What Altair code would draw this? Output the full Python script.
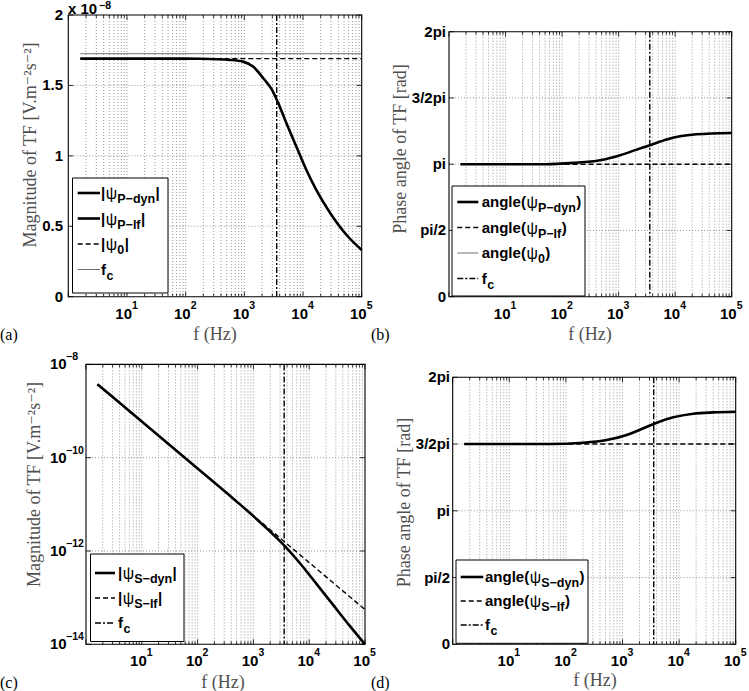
import altair as alt
import numpy as np
import pandas as pd

# ---------------------------------------------------------------- fonts / colours
SANS = "Liberation Sans, Arial, Helvetica, sans-serif"
SERIF = "Liberation Serif, 'Times New Roman', 'DejaVu Serif', serif"
TITLE_GRAY = "#505050"
GRID_GRAY = "#9a9a9a"

# ---------------------------------------------------------------- data
F_LO, F_HI = 1.0, 1.0e5      # frequency axis limits (Hz)
F_START = 1.6                # first computed frequency (Hz)
F_C = 3560.0                 # cut-off frequency f_c (Hz)

# (a) |psi_P|, in units of 1e-8 V.m^-2.s^-2
freq_p_mag = [1.6, 10, 100, 176, 570, 952, 1410, 2085, 2897, 3752, 5215,
              7720, 11420, 16900, 28450, 54800, 100000]
mag_p_dyn = [1.69, 1.69, 1.69, 1.689, 1.681, 1.669, 1.634, 1.553, 1.475,
             1.378, 1.232, 1.065, 0.900, 0.757, 0.600, 0.440, 0.332]
mag_p_lf = 1.69
mag_p_0 = 1.725

# (b) angle(psi_P), in multiples of pi
freq_p_ph = [1.6, 10, 50, 158, 469, 1058, 2090, 3590, 7080, 12170, 24000, 100000]
phase_p_dyn = [1.0, 1.0, 1.0, 1.010, 1.030, 1.068, 1.110, 1.143, 1.186,
               1.211, 1.226, 1.236]
phase_p_lf = 1.0

# (c) |psi_S|, V.m^-2.s^-2
freq_s_mag = [1.6, 10, 100, 437, 1000, 1730, 3660, 6840, 13610, 27040,
              53830, 100000]
mag_s_dyn = [3.76e-9, 5.94e-10, 5.85e-11, 1.32e-11, 5.6e-12, 3.05e-12,
             1.27e-12, 5.47e-13, 1.95e-13, 6.9e-14, 2.45e-14, 1.0e-14]
freq_s_lf = [1.6, 100000]
mag_s_lf = [3.76e-9, 5.55e-14]

# (d) angle(psi_S), in multiples of pi
freq_s_ph = [1.6, 10, 50, 203, 526, 1186, 2330, 4020, 7900, 17800, 40200, 100000]
phase_s_dyn = [1.5, 1.5, 1.5, 1.510, 1.530, 1.567, 1.618, 1.660, 1.700,
               1.727, 1.737, 1.742]
phase_s_lf = 1.5

# axis ticks
DECADES = [1, 10, 100, 1000, 10000, 100000]
MINOR = [m * 10 ** k for k in range(5) for m in range(2, 10)]
X_LABEL_FREQ = [10, 100, 1000, 10000, 100000]
X_LABEL_EXP = ["1", "2", "3", "4", "5"]
MAG_TICKS = [0, 0.5, 1, 1.5, 2]
MAG_TICK_TEXT = ["0", "0.5", "1", "1.5", "2"]
PHASE_TICKS = [0, np.pi / 2, np.pi, 1.5 * np.pi, 2 * np.pi]
PHASE_TICK_TEXT = ["0", "pi/2", "pi", "3/2pi", "2pi"]
LOGMAG_TICKS = [1e-8, 1e-10, 1e-12, 1e-14]
LOGMAG_EXP = ["\u22128", "\u221210", "\u221212", "\u221214"]
GRID_X = MINOR + DECADES[1:-1]

# ---------------------------------------------------------------- styles
STYLE = {
    "dyn": dict(color="black", strokeWidth=2.6),
    "lf": dict(color="black", strokeWidth=1.4, strokeDash=[5, 3]),
    "thin": dict(color="#606060", strokeWidth=0.9),
    "fc": dict(color="black", strokeWidth=1.4, strokeDash=[6, 2, 2, 2]),
}

ONE = pd.DataFrame({"k": [0]})
FS = 15        # bold label size
FS_SUB = 12.5  # subscript size
FS_SUP = 10.5  # superscript size

BOLD_W = {"a": .556, "n": .611, "g": .611, "l": .278, "e": .556, "(": .333,
          ")": .333, "|": .280, "P": .667, "S": .667, "\u2212": .584,
          "d": .611, "y": .556, "f": .333, "0": .556, "c": .556}


def text_width(s, size):
    return sum(BOLD_W.get(ch, 0.6) for ch in s) * size


def text(x, y, s, size=FS, weight="bold", font=SANS, align="left",
         color="black", angle=None, baseline="middle"):
    props = dict(text=s, fontSize=size, fontWeight=weight, font=font,
                 align=align, baseline=baseline, color=color)
    if angle is not None:
        props["angle"] = angle
    return alt.Chart(ONE).mark_text(**props).encode(x=alt.value(x), y=alt.value(y))


def hline(x1, x2, y, **style):
    return alt.Chart(ONE).mark_rule(**style).encode(
        x=alt.value(x1), x2=alt.value(x2), y=alt.value(y))


class Panel:
    """One sub-plot: its own log-frequency x scale and y scale, placed by range."""

    def __init__(self, L, R, T, B, ydomain, ylog=False):
        self.L, self.R, self.T, self.B = L, R, T, B
        self.ydomain = ydomain
        self.xs = alt.Scale(type="log", domain=[F_LO, F_HI], range=[L, R], nice=False)
        if ylog:
            self.ys = alt.Scale(type="log", domain=ydomain, range=[B, T], nice=False)
        else:
            self.ys = alt.Scale(domain=ydomain, range=[B, T], nice=False, zero=False)
        self.layers = []

    def X(self, field="f"):
        return alt.X(f"{field}:Q", scale=self.xs, axis=None)

    def Y(self, field="v"):
        return alt.Y(f"{field}:Q", scale=self.ys, axis=None)

    def grid(self, yvals):
        style = dict(color=GRID_GRAY, strokeWidth=1, strokeDash=[1, 2])
        self.layers.append(alt.Chart(pd.DataFrame({"f": GRID_X})).mark_rule(**style).encode(
            x=self.X(), y=alt.value(self.T), y2=alt.value(self.B)))
        self.layers.append(alt.Chart(pd.DataFrame({"v": yvals})).mark_rule(**style).encode(
            y=self.Y(), x=alt.value(self.L), x2=alt.value(self.R)))

    def line(self, freqs, values, style, interpolate="linear"):
        df = pd.DataFrame({"f": freqs, "v": values})
        self.layers.append(alt.Chart(df).mark_line(interpolate=interpolate, **STYLE[style]).encode(
            x=self.X(), y=self.Y()))

    def fc(self):
        self.layers.append(alt.Chart(pd.DataFrame({"f": [F_C]})).mark_rule(**STYLE["fc"]).encode(
            x=self.X(), y=alt.value(self.T), y2=alt.value(self.B)))

    def ticks(self, yvals):
        for vals, ln in ((DECADES, 5), (MINOR, 3)):
            df = pd.DataFrame({"f": vals})
            self.layers.append(alt.Chart(df).mark_rule(color="black", strokeWidth=0.8).encode(
                x=self.X(), y=alt.value(self.B), y2=alt.value(self.B - ln)))
            self.layers.append(alt.Chart(df).mark_rule(color="black", strokeWidth=0.8).encode(
                x=self.X(), y=alt.value(self.T), y2=alt.value(self.T + ln)))
        dfy = pd.DataFrame({"v": yvals})
        self.layers.append(alt.Chart(dfy).mark_rule(color="black", strokeWidth=0.8).encode(
            y=self.Y(), x=alt.value(self.L), x2=alt.value(self.L + 5)))
        self.layers.append(alt.Chart(dfy).mark_rule(color="black", strokeWidth=0.8).encode(
            y=self.Y(), x=alt.value(self.R - 5), x2=alt.value(self.R)))

    def frame(self):
        df = pd.DataFrame({"x1": [F_LO], "x2": [F_HI],
                           "y1": [self.ydomain[0]], "y2": [self.ydomain[1]]})
        self.layers.append(alt.Chart(df).mark_rect(
            fillOpacity=0, stroke="black", strokeWidth=1.1).encode(
            x=self.X("x1"), x2="x2:Q", y=self.Y("y1"), y2="y2:Q"))

    def x_labels(self):
        df = pd.DataFrame({"f": X_LABEL_FREQ, "e": X_LABEL_EXP})
        self.layers.append(alt.Chart(df).mark_text(
            text="10", align="right", dx=5, fontSize=FS, fontWeight="bold", font=SANS,
            baseline="middle").encode(x=self.X(), y=alt.value(self.B + 17)))
        self.layers.append(alt.Chart(df).mark_text(
            align="left", dx=5, fontSize=FS_SUP, fontWeight="bold", font=SANS,
            baseline="middle").encode(x=self.X(), y=alt.value(self.B + 9), text="e:N"))

    def y_labels(self, vals, texts, xpos):
        df = pd.DataFrame({"v": vals, "t": texts})
        self.layers.append(alt.Chart(df).mark_text(
            align="right", fontSize=FS, fontWeight="bold", font=SANS,
            baseline="middle").encode(x=alt.value(xpos), y=self.Y(), text="t:N"))

    def y_pow_labels(self, vals, exps, x_base, x_exp):
        df = pd.DataFrame({"v": vals, "e": exps})
        self.layers.append(alt.Chart(df).mark_text(
            text="10", align="left", fontSize=FS, fontWeight="bold", font=SANS,
            baseline="middle").encode(x=alt.value(x_base), y=self.Y()))
        self.layers.append(alt.Chart(df).mark_text(
            align="left", dy=-7, fontSize=FS_SUP, fontWeight="bold", font=SANS,
            baseline="middle").encode(x=alt.value(x_exp), y=self.Y(), text="e:N"))

    def legend(self, box, line_x, text_x, rows):
        x1, y1, x2, y2 = box
        self.layers.append(alt.Chart(ONE).mark_rect(
            fill="white", stroke="black", strokeWidth=1).encode(
            x=alt.value(x1), x2=alt.value(x2), y=alt.value(y1), y2=alt.value(y2)))
        for y, style, segs in rows:
            self.layers.append(hline(line_x[0], line_x[1], y, **STYLE[style]))
            x = text_x
            for kind, s in segs:
                if kind == "m":
                    self.layers.append(text(x, y, s, FS))
                    x += text_width(s, FS) + 0.5
                elif kind == "s":
                    self.layers.append(text(x, y + 6, s, FS_SUB))
                    x += text_width(s, FS_SUB) + 0.5
                else:
                    self.layers.append(text(x, y + 1, s, 16, weight="normal"))
                    x += 0.69 * 16 + 0.5

    def titles(self, xt, yt, ytitle):
        self.layers.append(text(xt[0], xt[1], "f (Hz)", 18, "normal", SERIF, "center", TITLE_GRAY))
        self.layers.append(text(yt[0], yt[1], ytitle, 18, "normal", SERIF, "center",
                                TITLE_GRAY, angle=270))


def psi_abs(sub):
    return [("m", "|"), ("p", "\u03c8"), ("s", sub), ("m", "|")]


def psi_angle(sub):
    return [("m", "angle("), ("p", "\u03c8"), ("s", sub), ("m", ")")]


FC_SEGS = [("m", "f"), ("s", "c")]
MAG_TITLE = "Magnitude of TF [V.m\u207b\u00b2s\u207b\u00b2]"
PHASE_TITLE = "Phase angle of TF [rad]"

# ---------------------------------------------------------------- (a) |psi_P|
pa = Panel(68.3, 361.7, 15.0, 296.7, [0, 2])
pa.grid([0.5, 1, 1.5])
pa.line([F_START, F_HI], [mag_p_lf] * 2, "lf")
pa.line([F_START, F_HI], [mag_p_0] * 2, "thin")
pa.fc()
pa.line(freq_p_mag, mag_p_dyn, "dyn", "monotone")
pa.ticks(MAG_TICKS)
pa.frame()
pa.legend((72.5, 178, 168, 293), (77.7, 100), 101, [
    (193, "dyn", psi_abs("P\u2212dyn")),
    (218.5, "dyn", psi_abs("P\u2212lf")),
    (244, "lf", psi_abs("0")),
    (269.5, "thin", FC_SEGS)])
pa.x_labels()
pa.y_labels(MAG_TICKS, MAG_TICK_TEXT, 63)
pa.titles((215, 335), (31, 145), MAG_TITLE)
pa.layers += [text(68, 9, "x 10", FS), text(99, 5.5, "\u22128", FS_SUP),
              text(0, 335, "(a)", 16, "normal", SERIF)]

# ---------------------------------------------------------------- (b) angle(psi_P)
pb = Panel(449.0, 731.7, 31.7, 296.7, [0, 2 * np.pi])
pb.grid(PHASE_TICKS[1:-1])
pb.line([F_START, F_HI], [phase_p_lf * np.pi] * 2, "lf")
pb.fc()
pb.line(freq_p_ph, [p * np.pi for p in phase_p_dyn], "dyn", "monotone")
pb.ticks(PHASE_TICKS)
pb.frame()
pb.legend((452, 186, 585, 296), (457.3, 478.3), 481.7, [
    (202, "dyn", psi_angle("P\u2212dyn")),
    (227.5, "lf", psi_angle("P\u2212lf")),
    (253, "thin", psi_angle("0")),
    (278.5, "fc", FC_SEGS)])
pb.x_labels()
pb.y_labels(PHASE_TICKS, PHASE_TICK_TEXT, 446)
pb.titles((590, 335), (401, 149), PHASE_TITLE)
pb.layers.append(text(371, 335, "(b)", 16, "normal", SERIF))

# ---------------------------------------------------------------- (c) |psi_S|
pc = Panel(86.0, 365.0, 364.4, 644.3, [1e-14, 1e-8], ylog=True)
pc.grid([1e-10, 1e-12])
pc.line(freq_s_lf, mag_s_lf, "lf")
pc.fc()
pc.line(freq_s_mag, mag_s_dyn, "dyn", "monotone")
pc.ticks(LOGMAG_TICKS)
pc.frame()
pc.legend((90.5, 554, 184, 641.5), (95, 115), 118, [
    (573, "dyn", psi_abs("S\u2212dyn")),
    (598, "lf", psi_abs("S\u2212lf")),
    (623, "fc", FC_SEGS)])
pc.x_labels()
pc.y_pow_labels(LOGMAG_TICKS, LOGMAG_EXP, 50, 66)
pc.titles((223, 683), (35, 484.5), MAG_TITLE)
pc.layers.append(text(0, 683, "(c)", 16, "normal", SERIF))

# ---------------------------------------------------------------- (d) angle(psi_S)
pd_ = Panel(452.7, 735.7, 377.3, 644.3, [0, 2 * np.pi])
pd_.grid(PHASE_TICKS[1:-1])
pd_.line([F_START, F_HI], [phase_s_lf * np.pi] * 2, "lf")
pd_.fc()
pd_.line(freq_s_ph, [p * np.pi for p in phase_s_dyn], "dyn", "monotone")
pd_.ticks(PHASE_TICKS)
pd_.frame()
pd_.legend((456, 560, 588, 643.3), (460.7, 483.3), 485, [
    (577, "dyn", psi_angle("S\u2212dyn")),
    (601, "lf", psi_angle("S\u2212lf")),
    (625, "fc", FC_SEGS)])
pd_.x_labels()
pd_.y_labels(PHASE_TICKS, PHASE_TICK_TEXT, 450)
pd_.titles((595, 681), (404.5, 502.5), PHASE_TITLE)
pd_.layers.append(text(371, 683, "(d)", 16, "normal", SERIF))

chart = alt.layer(
    *(pa.layers + pb.layers + pc.layers + pd_.layers)
).resolve_scale(
    x="independent", y="independent"
).properties(
    width=749, height=691, padding=0, background="white",
    autosize=alt.AutoSizeParams(type="none"),
).configure_view(strokeWidth=0)

chart.save("out.html", embed_options={"renderer": "svg", "actions": False})
